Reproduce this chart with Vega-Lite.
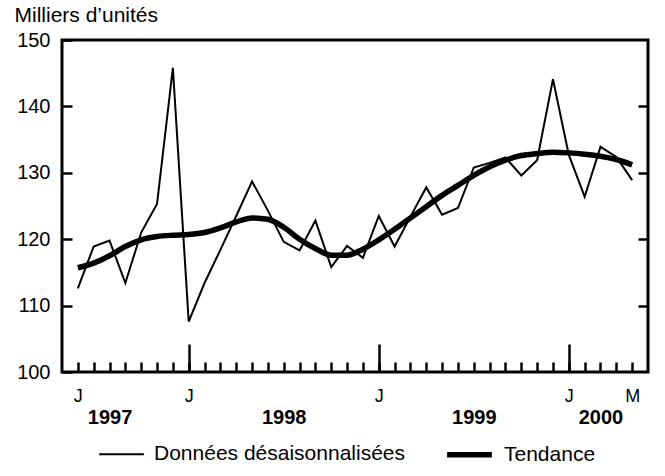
{
  "$schema": "https://vega.github.io/schema/vega-lite/v6.json",
  "width": 586,
  "height": 332,
  "autosize": "none",
  "padding": {"left": 62, "top": 40, "right": 17, "bottom": 104},
  "background": "white",
  "config": {
    "font": "Liberation Sans",
    "view": {"stroke": "black", "strokeWidth": 3},
    "axis": {"grid": false, "domain": false, "tickColor": "black", "tickWidth": 2.5, "labelColor": "black", "titleColor": "black", "labelOverlap": false, "labelFlush": false, "labelBound": false}
  },
  "data": {
    "values": [
      {"m": 1, "s": "Données désaisonnalisées", "v": 112.6},
      {"m": 2, "s": "Données désaisonnalisées", "v": 118.9},
      {"m": 3, "s": "Données désaisonnalisées", "v": 119.8},
      {"m": 4, "s": "Données désaisonnalisées", "v": 113.4},
      {"m": 5, "s": "Données désaisonnalisées", "v": 121.0},
      {"m": 6, "s": "Données désaisonnalisées", "v": 125.3},
      {"m": 7, "s": "Données désaisonnalisées", "v": 145.8},
      {"m": 8, "s": "Données désaisonnalisées", "v": 107.6},
      {"m": 9, "s": "Données désaisonnalisées", "v": 113.4},
      {"m": 10, "s": "Données désaisonnalisées", "v": 118.4},
      {"m": 11, "s": "Données désaisonnalisées", "v": 123.5},
      {"m": 12, "s": "Données désaisonnalisées", "v": 128.7},
      {"m": 13, "s": "Données désaisonnalisées", "v": 124.3},
      {"m": 14, "s": "Données désaisonnalisées", "v": 119.6},
      {"m": 15, "s": "Données désaisonnalisées", "v": 118.3},
      {"m": 16, "s": "Données désaisonnalisées", "v": 122.8},
      {"m": 17, "s": "Données désaisonnalisées", "v": 115.8},
      {"m": 18, "s": "Données désaisonnalisées", "v": 119.0},
      {"m": 19, "s": "Données désaisonnalisées", "v": 117.2},
      {"m": 20, "s": "Données désaisonnalisées", "v": 123.5},
      {"m": 21, "s": "Données désaisonnalisées", "v": 118.9},
      {"m": 22, "s": "Données désaisonnalisées", "v": 123.4},
      {"m": 23, "s": "Données désaisonnalisées", "v": 127.8},
      {"m": 24, "s": "Données désaisonnalisées", "v": 123.7},
      {"m": 25, "s": "Données désaisonnalisées", "v": 124.7},
      {"m": 26, "s": "Données désaisonnalisées", "v": 130.8},
      {"m": 27, "s": "Données désaisonnalisées", "v": 131.5},
      {"m": 28, "s": "Données désaisonnalisées", "v": 132.3},
      {"m": 29, "s": "Données désaisonnalisées", "v": 129.6},
      {"m": 30, "s": "Données désaisonnalisées", "v": 131.9},
      {"m": 31, "s": "Données désaisonnalisées", "v": 144.1},
      {"m": 32, "s": "Données désaisonnalisées", "v": 132.7},
      {"m": 33, "s": "Données désaisonnalisées", "v": 126.4},
      {"m": 34, "s": "Données désaisonnalisées", "v": 133.9},
      {"m": 35, "s": "Données désaisonnalisées", "v": 132.4},
      {"m": 36, "s": "Données désaisonnalisées", "v": 128.9},
      {"m": 1, "s": "Tendance", "v": 115.7},
      {"m": 2, "s": "Tendance", "v": 116.4},
      {"m": 3, "s": "Tendance", "v": 117.5},
      {"m": 4, "s": "Tendance", "v": 118.9},
      {"m": 5, "s": "Tendance", "v": 119.9},
      {"m": 6, "s": "Tendance", "v": 120.4},
      {"m": 7, "s": "Tendance", "v": 120.6},
      {"m": 8, "s": "Tendance", "v": 120.7},
      {"m": 9, "s": "Tendance", "v": 121.0},
      {"m": 10, "s": "Tendance", "v": 121.7},
      {"m": 11, "s": "Tendance", "v": 122.6},
      {"m": 12, "s": "Tendance", "v": 123.2},
      {"m": 13, "s": "Tendance", "v": 123.0},
      {"m": 14, "s": "Tendance", "v": 121.8},
      {"m": 15, "s": "Tendance", "v": 120.0},
      {"m": 16, "s": "Tendance", "v": 118.6},
      {"m": 17, "s": "Tendance", "v": 117.6},
      {"m": 18, "s": "Tendance", "v": 117.6},
      {"m": 19, "s": "Tendance", "v": 118.5},
      {"m": 20, "s": "Tendance", "v": 119.9},
      {"m": 21, "s": "Tendance", "v": 121.5},
      {"m": 22, "s": "Tendance", "v": 123.2},
      {"m": 23, "s": "Tendance", "v": 124.9},
      {"m": 24, "s": "Tendance", "v": 126.6},
      {"m": 25, "s": "Tendance", "v": 128.1},
      {"m": 26, "s": "Tendance", "v": 129.6},
      {"m": 27, "s": "Tendance", "v": 130.9},
      {"m": 28, "s": "Tendance", "v": 131.9},
      {"m": 29, "s": "Tendance", "v": 132.6},
      {"m": 30, "s": "Tendance", "v": 132.9},
      {"m": 31, "s": "Tendance", "v": 133.1},
      {"m": 32, "s": "Tendance", "v": 133.0},
      {"m": 33, "s": "Tendance", "v": 132.8},
      {"m": 34, "s": "Tendance", "v": 132.5},
      {"m": 35, "s": "Tendance", "v": 132.0},
      {"m": 36, "s": "Tendance", "v": 131.2}
    ]
  },
  "resolve": {"axis": {"x": "independent", "y": "independent"}},
  "layer": [
    {
      "transform": [{"filter": "datum.s === 'Données désaisonnalisées'"}],
      "mark": {"type": "line", "color": "black"},
      "encoding": {
        "x": {"field": "m", "type": "quantitative", "scale": {"domain": [0, 37], "nice": false, "zero": false},
          "axis": {"orient": "bottom", "values": [1,2,3,4,5,6,7,8,9,10,11,12,13,14,15,16,17,18,19,20,21,22,23,24,25,26,27,28,29,30,31,32,33,34,35,36],
            "tickSize": -10, "labelPadding": 25, "labelFontSize": 18,
            "labelExpr": "datum.value == 36 ? 'M' : ((datum.value == 1 || datum.value == 8 || datum.value == 20 || datum.value == 32) ? 'J' : '')",
            "title": null}},
        "y": {"field": "v", "type": "quantitative", "scale": {"domain": [100, 150], "nice": false, "zero": false},
          "axis": {"values": [100, 110, 120, 130, 140, 150], "tickSize": -10, "labelPadding": 22, "labelFontSize": 20,
            "title": "Milliers d’unités", "titleAngle": 0, "titleX": -48, "titleY": -19, "titleAlign": "left", "titleBaseline": "alphabetic",
            "titleFontSize": 21, "titleFontWeight": "normal"}},
        "strokeWidth": {"field": "s", "type": "nominal",
          "scale": {"domain": ["Données désaisonnalisées", "Tendance"], "range": [2, 5.5]},
          "legend": {"orient": "none", "legendX": 36, "legendY": 389, "direction": "horizontal", "title": null,
            "symbolType": "stroke", "symbolStrokeColor": "black", "symbolSize": 2000, "labelFontSize": 21,
            "labelOffset": 9, "columnPadding": 30, "labelLimit": 400, "labelColor": "black"}}
      }
    },
    {
      "transform": [{"filter": "datum.s === 'Tendance'"}],
      "mark": {"type": "line", "color": "black", "interpolate": "monotone"},
      "encoding": {
        "x": {"field": "m", "type": "quantitative",
          "axis": {"orient": "bottom", "values": [8, 20, 32], "tickSize": -28, "labels": false, "title": null}},
        "y": {"field": "v", "type": "quantitative", "axis": null},
        "strokeWidth": {"field": "s", "type": "nominal"}
      }
    },
    {
      "transform": [{"filter": "datum.s === 'Tendance'"}],
      "mark": {"type": "point", "opacity": 0},
      "encoding": {
        "x": {"field": "m", "type": "quantitative",
          "axis": {"orient": "bottom", "values": [3, 14, 26, 34], "ticks": false, "labelPadding": 35, "labelFontSize": 20, "labelFontWeight": "bold",
            "labelExpr": "datum.value == 3 ? '1997' : datum.value == 14 ? '1998' : datum.value == 26 ? '1999' : '2000'", "title": null}},
        "y": {"field": "v", "type": "quantitative",
          "axis": {"orient": "right", "values": [110, 120, 130, 140], "tickSize": -10, "labels": false, "title": null}}
      }
    }
  ]
}
